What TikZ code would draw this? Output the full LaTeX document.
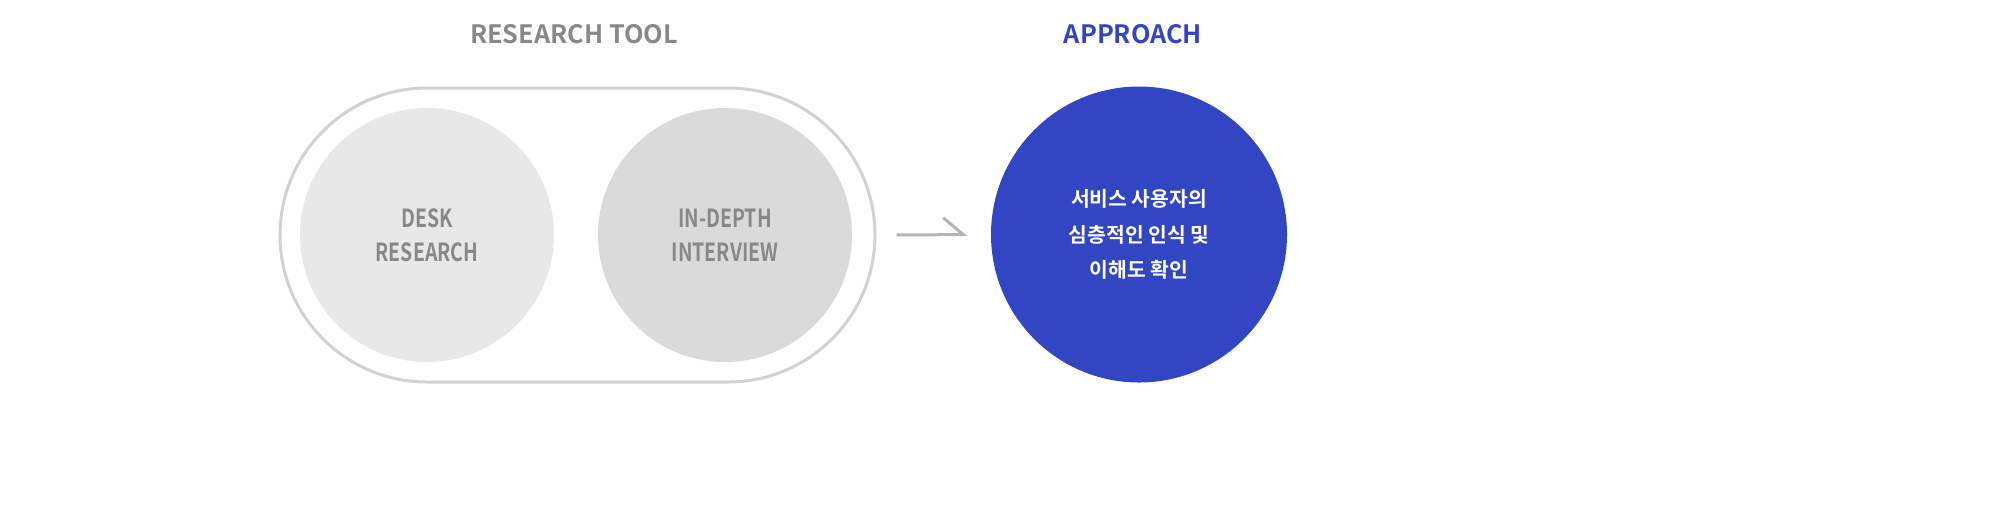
\documentclass[tikz,border=0pt]{standalone}
\usepackage{fontspec}
\setmainfont{Noto Sans CJK KR}[BoldFont={Noto Sans CJK KR Bold}]
\newfontfamily\condfont{Noto Sans CJK KR Bold}[FakeStretch=0.78]
\usepackage{tikz}
\usetikzlibrary{arrows.meta,shapes}
\definecolor{labelgray}{HTML}{888888}
\definecolor{capsulegray}{HTML}{D2D2D2}
\definecolor{deskgray}{HTML}{E8E8E8}
\definecolor{idigray}{HTML}{DADADA}
\definecolor{appblue}{HTML}{3246C3}
\definecolor{arrowgray}{HTML}{B4B4B4}
\tikzstyle{title} = [font=\bfseries\fontsize{7.2}{9}\selectfont, text=labelgray, inner sep=0pt]
\tikzstyle{capsule} = [draw=capsulegray, line width=0.85pt, rounded corners=1.47cm, minimum width=5.95cm, minimum height=2.94cm, inner sep=0pt]
\tikzstyle{toolcircle} = [circle, minimum size=2.54cm, inner sep=0pt, align=center, text=labelgray, font=\condfont\fontsize{7.1}{9.55}\selectfont]
\tikzstyle{approach} = [circle, fill=appblue, minimum size=2.96cm, inner sep=0pt, align=center, text=white, font=\bfseries\fontsize{5.8}{10.1}\selectfont]
\tikzstyle{arrow} = [draw=arrowgray, line width=0.85pt, -{Straight Barb[harpoon,left,length=2mm,width=3.4mm]}]

\begin{document}
\begin{tikzpicture}

\useasboundingbox (0,0) rectangle (19.98,5.21);

%%% %%%
% RESEARCH TOOL
%%% %%%

\node[title] (tooltitle) at (5.74,4.865) {RESEARCH TOOL};

\node[capsule] (tool) at (5.775,2.86) {};

\node[toolcircle,fill=deskgray] (desk) at (4.27,2.86) {DESK\\RESEARCH};
\node[toolcircle,fill=idigray] (idi) at (7.25,2.86) {IN-DEPTH\\INTERVIEW};

%%% %%%
% APPROACH
%%% %%%

\node[title,text=appblue] (apptitle) at (11.33,4.865) {APPROACH};

\node[approach] (goal) at (11.39,2.865) {서비스 사용자의\\심층적인 인식 및\\이해도 확인};

%%%
% Arrow
%%%

\draw [arrow,shorten <=0.2cm,shorten >=0.23cm] (tool.east) to (goal.west);

\end{tikzpicture}
\end{document}
